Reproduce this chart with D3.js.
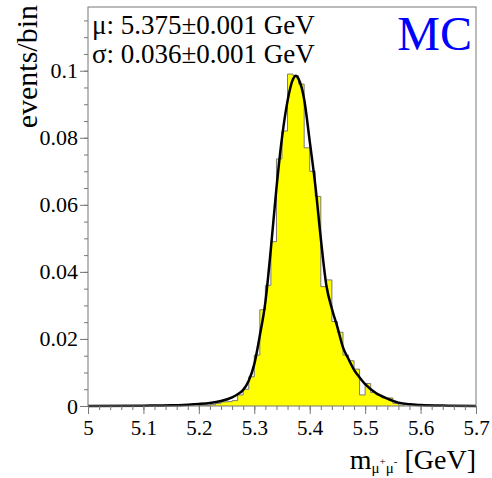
<!DOCTYPE html>
<html lang="en">
<head>
  <meta charset="UTF-8">
  <title>MC mass fit</title>
  <style>
    html, body { margin: 0; padding: 0; background: #fff; }
    svg text { font-family: 'Liberation Serif', 'Times New Roman', serif !important; }
  </style>
</head>
<body>
  <svg id="chart"></svg>
  <script src="https://d3js.org/d3.v7.min.js"></script>
  <script>
    // histogram bins (low edge in GeV, bin width 0.01) and their contents
    const binEdges = [5.20, 5.21, 5.22, 5.23, 5.24, 5.25, 5.26, 5.27, 5.28, 5.29,
      5.30, 5.31, 5.32, 5.33, 5.34, 5.35, 5.36, 5.37, 5.38, 5.39,
      5.40, 5.41, 5.42, 5.43, 5.44, 5.45, 5.46, 5.47, 5.48, 5.49,
      5.50, 5.51, 5.52, 5.53, 5.54, 5.55, 5.56]
    const binValues = [0.0002, 0.0002, 0.0004, 0.0008, 0.0012, 0.0013, 0.0016, 0.0033, 0.0050, 0.0087,
      0.0152, 0.0287, 0.0360, 0.0490, 0.0737, 0.0820, 0.0990, 0.0985, 0.0960, 0.0770,
      0.0700, 0.0625, 0.0356, 0.0376, 0.0252, 0.0220, 0.0152, 0.0135, 0.0110, 0.0033,
      0.0067, 0.0040, 0.0033, 0.0024, 0.0024, 0.0008, 0.0003]
    const binWidth = 0.01

    // fit curve
    const fitX = [5.00, 5.10, 5.15, 5.18, 5.20, 5.22, 5.24, 5.26, 5.27, 5.28, 5.29,
      5.30, 5.31, 5.32, 5.33, 5.34, 5.35, 5.36, 5.37, 5.375, 5.38, 5.39,
      5.40, 5.41, 5.42, 5.43, 5.44, 5.45, 5.46, 5.47, 5.48, 5.49,
      5.50, 5.52, 5.54, 5.56, 5.58, 5.60, 5.65, 5.70]
    const fitY = [0.0000, 0.0001, 0.0002, 0.0004, 0.0006, 0.0009, 0.0015, 0.0026, 0.0035, 0.0048, 0.0075,
      0.0125, 0.0210, 0.0310, 0.0470, 0.0650, 0.0800, 0.0910, 0.0975, 0.0985, 0.0975, 0.0915,
      0.0790, 0.0660, 0.0500, 0.0360, 0.0290, 0.0235, 0.0175, 0.0140, 0.0108, 0.0085,
      0.0065, 0.0038, 0.0022, 0.0010, 0.0005, 0.0003, 0.0001, 0.0000]

    const xTicks = [5, 5.1, 5.2, 5.3, 5.4, 5.5, 5.6, 5.7]
    const yTicks = [0, 0.02, 0.04, 0.06, 0.08, 0.1]
    const statLines = ['μ: 5.375±0.001 GeV', 'σ: 0.036±0.001 GeV']

    const width = 492, height = 478
    const margin = {top: 7, right: 16, bottom: 72, left: 88}
    const serif = "'Liberation Serif', 'Times New Roman', serif"

    const svg = d3.select('#chart')
      .attr('width', width)
      .attr('height', height)
      .style('font-family', serif)

    const x = d3.scaleLinear().domain([5, 5.7]).range([margin.left, width - margin.right])
    const y = d3.scaleLinear().domain([0, 0.119]).range([height - margin.bottom, margin.top])

    // histogram as a step shape
    const steps = [[binEdges[0], 0]]
    binEdges.forEach((e, i) => steps.push([e, binValues[i]]))
    const lastEdge = binEdges[binEdges.length - 1] + binWidth
    steps.push([lastEdge, 0])

    svg.append('path')
      .datum(steps)
      .attr('fill', '#ffff00')
      .attr('d', d3.area().x(d => x(d[0])).y0(y(0)).y1(d => y(d[1])).curve(d3.curveStepAfter))

    svg.append('path')
      .datum(steps)
      .attr('fill', 'none')
      .attr('stroke', '#7a7a7a')
      .attr('stroke-width', 1)
      .attr('d', d3.line().x(d => x(d[0])).y(d => y(d[1])).curve(d3.curveStepAfter))

    // fit
    svg.append('path')
      .datum(d3.zip(fitX, fitY))
      .attr('fill', 'none')
      .attr('stroke', '#000')
      .attr('stroke-width', 2.5)
      .attr('d', d3.line().x(d => x(d[0])).y(d => y(d[1])).curve(d3.curveMonotoneX))

    // frame
    svg.append('rect')
      .attr('x', margin.left).attr('y', margin.top)
      .attr('width', width - margin.left - margin.right)
      .attr('height', height - margin.top - margin.bottom)
      .attr('fill', 'none')
      .attr('stroke', '#777')
      .attr('stroke-width', 1)

    function styleAxis (g) {
      g.attr('font-family', null)
      g.select('.domain').remove()
      g.selectAll('line').attr('stroke', '#777')
      g.selectAll('text').attr('font-size', 22).attr('fill', '#000').style('font-family', serif)
    }

    // x axis
    svg.append('g')
      .attr('transform', `translate(0,${y(0)})`)
      .call(d3.axisBottom(x).tickValues(d3.range(5, 5.7001, 0.02)).tickSize(4).tickFormat(''))
      .call(styleAxis)

    svg.append('g')
      .attr('transform', `translate(0,${y(0)})`)
      .call(d3.axisBottom(x).tickValues(xTicks).tickSize(8).tickPadding(6).tickFormat(d3.format('')))
      .call(styleAxis)
      .selectAll('text').attr('font-size', 21)

    // y axis
    svg.append('g')
      .attr('transform', `translate(${margin.left},0)`)
      .call(d3.axisLeft(y).tickValues(d3.range(0, 0.1151, 0.005)).tickSize(4).tickFormat(''))
      .call(styleAxis)

    svg.append('g')
      .attr('transform', `translate(${margin.left},0)`)
      .call(d3.axisLeft(y).tickValues(yTicks).tickSize(8).tickPadding(2).tickFormat(d3.format('')))
      .call(styleAxis)

    // titles
    svg.append('text')
      .attr('transform', `translate(37,5) rotate(-90)`)
      .attr('text-anchor', 'end')
      .attr('font-size', 30)
      .text('events/bin')

    const xt = svg.append('text')
      .attr('x', width - margin.right)
      .attr('y', 469)
      .attr('text-anchor', 'end')
      .attr('font-size', 28)
    xt.append('tspan').text('m')
    xt.append('tspan').attr('font-size', 15).attr('dy', 4).text('μ')
    xt.append('tspan').attr('font-size', 11).attr('dy', -8).text('+')
    xt.append('tspan').attr('font-size', 15).attr('dy', 8).text('μ')
    xt.append('tspan').attr('font-size', 11).attr('dy', -8).text('-')
    xt.append('tspan').attr('dy', 4).text(' [GeV]')

    svg.selectAll('.stat')
      .data(statLines)
      .enter().append('text')
      .attr('class', 'stat')
      .attr('x', 92)
      .attr('y', (d, i) => 34 + i * 29)
      .attr('font-size', 27)
      .text(d => d)

    svg.append('text')
      .attr('x', 472)
      .attr('y', 50)
      .attr('text-anchor', 'end')
      .attr('font-size', 48)
      .attr('fill', '#0000ff')
      .text('MC')
  </script>
</body>
</html>
